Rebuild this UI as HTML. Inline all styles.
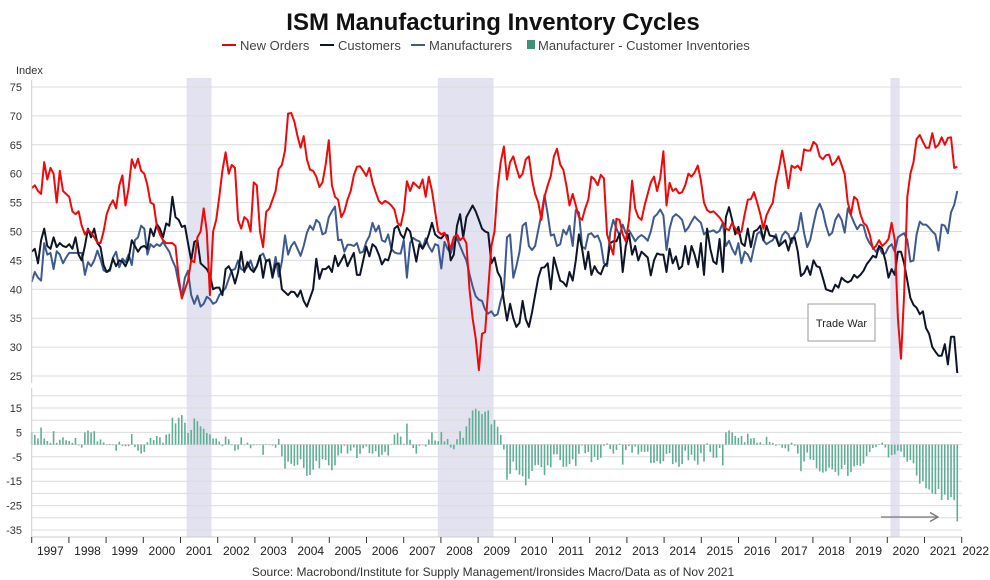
<!DOCTYPE html>
<html><head><meta charset="utf-8"><style>
html,body{margin:0;padding:0;background:#fff;}
svg{display:block;font-family:"Liberation Sans",Arial,sans-serif;}
</style></head><body>
<svg id="chart" width="990" height="580" viewBox="0 0 990 580">
<text x="493" y="30" text-anchor="middle" font-size="24" font-weight="bold" fill="#111">ISM Manufacturing Inventory Cycles</text>
<g font-size="13" fill="#444">
 <g><line x1="222" y1="45" x2="236" y2="45" stroke="#e8000b" stroke-width="2"/><text x="240" y="50">New Orders</text></g>
 <g><line x1="320" y1="45" x2="334" y2="45" stroke="#0d1526" stroke-width="2"/><text x="338" y="50">Customers</text></g>
 <g><line x1="411" y1="45" x2="425" y2="45" stroke="#3f5a8e" stroke-width="2"/><text x="429" y="50">Manufacturers</text></g>
 <g><rect x="527" y="40" width="8" height="9" fill="#3d9276"/><text x="538" y="50">Manufacturer - Customer Inventories</text></g>
</g>
<text x="16" y="74" font-size="11" fill="#333">Index</text>
<g id="shades"></g>
<g id="grid"></g>
<g id="bars"></g>
<g id="lines"></g>
<g id="axes"></g>
<g>
 <rect x="808" y="304" width="67" height="37" fill="#fff" stroke="#999" stroke-width="1"/>
 <text x="841.5" y="327" text-anchor="middle" font-size="11" fill="#222">Trade War</text>
</g>
<g stroke="#777" stroke-width="1.3" fill="none">
 <line x1="881" y1="517" x2="938" y2="517"/><polyline points="930,512.5 938,517 930,521.5"/>
</g>
<text x="493" y="576" text-anchor="middle" font-size="12" fill="#333">Source: Macrobond/Institute for Supply Management/Ironsides Macro/Data as of Nov 2021</text>
</svg>
<script>
const newOrders = [57.5,58,57,56.5,62,59,61,60,55,60.5,
57,56.5,56,53.5,53,53.5,51,49.5,50.3,49.8,49,48.1,
48,50,53,54.5,55.4,54,58,59.7,54.5,57.5,62.5,61,
62.6,60.5,60,58,55,54.7,51,49.5,48.5,48,48,48,
47.5,42,38.4,40,41.5,45,44.7,49,50,54,50,39,
50,52,56,60.5,63.7,60,61.5,61,52,50.5,52.5,52,
50,58.5,58,50,47.3,
53.4,54,55.5,57,60.8,61.5,64,70.4,70.5,69,66.5,64.5,66.5,62.5,60.7,60.5,59.5,57.7,58.5,61.5,65.8,58,56,55.5,52.5,53.5,55.5,57,59.7,61.2,61.3,60.5,59.6,61,58.5,56.8,55.3,54.8,55.3,55,54.5,53.8,51.5,51,53.5,58.7,57,58.5,58,57.5,59,56,59.5,57,53.5,50,49.5,49.8,48.5,47,49,49.5,48.5,49,48,40,35,31.5,26,32.3,32.6,40,47.5,50,57.5,62,
64.7,59,62,63,61,59.3,60,62.5,63,59,56.5,55,52,56,58,59.6,63,64.3,61.6,60.7,58,54.5,56.5,54.5,52.5,52,54,55.5,59.5,59,58,59.8,59.2,49.5,47.7,46,52.2,52,49.5,48.3,52,58.8,54,52.5,52,54.5,56.5,58.5,59.5,57,59.2,63.9,54.5,58.4,57,57.4,56.6,56.8,58,60,59.5,60.2,61.4,58.8,55,53.7,53.3,53.5,53,52.4,51.6,50.5,50.2,
51.5,50.5,49.6,50,53,55.5,55.6,56.8,55,53,50.5,52.8,54,55,58.5,61,64,61,57.5,61.4,61,61.4,60.6,64.2,64,64,65.5,65,63,62.5,63.2,63.3,61.5,62,63,61.5,59.9,55,53,56,55.5,53,51.5,51,49.5,47,47.5,48.5,47.5,48,48.7,51.5,48.5,35,28,39,56,60,62,66,66.7,65.5,64.5,64.5,67,64.5,65,66.3,65,66.2,66.3,61,61.2];
const customers = [46.5,47,44.5,48.5,50.5,47.5,47,49,47.3,48,
47.5,47.3,47.8,47,49,46,45,47.5,50.5,49,50.5,48,
47.3,44.2,43,43.5,45.3,44,45,44.8,44,45.3,48.5,47.5,
46.5,47.3,47.5,47,50.5,49.2,51.3,50.5,49,51.4,51,56,
52.5,52,50.8,51,48,45,48.2,48.5,44.5,44,43.5,42.5,
40,40.3,40.3,39,43.5,44,43,41,43,46.5,43,44.7,
43.5,43,44,
45.8,42,45,45,42,44.3,44.5,40,39.5,39,39.6,39.5,38.7,39.8,38,37,38.5,40,45.3,41.8,43.5,43.5,44,43,45.8,44,45,46,44,45.2,46.3,42.5,42.5,45,47.4,45.7,47.8,47.3,46,44.3,45.2,45,46.8,50.5,51,49.5,48.8,50.6,50,47.5,44.8,47.8,47,48,49.5,51.5,49.5,49,48.8,49.5,49.3,45,46,51,53,49,52.5,53.5,54.5,53.5,52,50.5,50,49.8,44.5,45.5,43,42,
38,34.6,37.5,35,33.5,34.2,38,34.8,33.5,36,39,42,43.7,43.8,44.5,40,45.5,43.5,41.5,41.2,40.5,43,41.5,45,49.5,47,43.5,46.5,42.5,44,43,42.6,44,44.5,48,48.3,48.3,49.6,43,47.5,49.6,46,47.5,45,46.5,46,45.5,42.4,45,46.2,46,46,43,47,44.5,45.7,43.5,44,47.5,44.3,47.5,46,43.8,48,42.5,50.5,47,44.8,44.4,48.7,43,52.5,54.2,
52,49.5,50.8,48,47.5,50.5,47.3,50,50.3,51,48.5,51,49.3,49.2,49,47.5,48,48.5,46.7,48.8,49,46.5,42.3,42.8,44,42.5,45,44,43.8,42,40,39.8,39.6,40.8,40.3,42,41.5,41.2,41.5,42.5,42,42.5,43.2,44.3,45,45.8,45.5,47.5,47,45,42,43.5,42.5,46.5,46.5,44.5,41.5,38.5,37.3,36.8,35.7,36.2,33.3,32.3,30,29.2,28.5,28.5,30.5,27,31.8,31.8,25.5];
const manufacturers = [41.3,43,42,41.5,48,46,46.3,43.5,46.6,46,
44.5,45.5,46.3,46.3,46.3,46.3,46.3,42.5,44.7,44,45,46.7,
45.2,43.3,43,43.2,45.5,46.5,43.8,45.3,44.7,46,44.2,48.5,
49,51,50.5,46,47.8,47.3,47.8,47.5,48.2,47.3,46.5,45,
43.8,41,38.7,42,43.2,39,37.5,38.9,37,37.5,38.7,38.3,
37.5,37.8,39,39.6,40.2,41.8,43.3,43.5,45,43.5,43.2,43.9,
45,43.3,44,
45.8,46.2,44.8,45.2,42.4,45.6,42.2,44.8,49.3,46,47.5,48.2,47,45.8,47.5,49.8,51,50.3,52,51.5,49.5,49.8,52.5,53.5,54.3,48.5,48.6,46.5,47.7,47.7,47.5,48,46.3,46.5,48.2,49.2,51.5,50,51,48.5,48.2,49.5,47,46.4,46.2,46.2,48.5,42,48,48.9,48.5,48.3,47.1,48.8,47.4,46.5,47.8,47.6,43.6,48.2,47,46.2,47.9,48.8,47.5,46.2,45,42.6,40.5,38.8,38.2,38,36.5,35.8,36.2,35.4,35.7,38,
40,49,49.5,42,44,46.5,51,51.5,47.5,46.8,47.5,50.3,53,56.3,53,49.3,49.5,47.5,47.8,50.3,49.5,51,47.5,53.7,53.3,47.4,47,49.5,49.7,49,49.3,48,44.5,44,49.8,52,50.5,49.3,51.2,49.7,50.2,49.3,48.3,49,49.4,49,48.4,50,52.5,53,53.8,52.8,46.8,50.5,52.5,53,52.6,52,50,50.7,51.7,52.6,52,51.5,49.5,50,50,50.2,49.8,50.1,51.5,47.5,48.4,
47,46,48,44.5,46.5,46,44.8,47.3,49.6,50,48.5,47.8,48.2,48.5,49.5,47.5,49.3,50,49.5,48,49.5,50.2,53.2,49.7,47.3,48.6,51.3,53.7,54.8,53.5,51,49.3,49.8,52,53,52,49.8,54,52.8,51.5,50.4,51.2,51,49,48,47.2,46.5,47.3,46.2,46.2,47.3,47.8,46.5,49,49.4,49.7,48.5,44.8,45,49.5,51.7,51.2,51.2,50.7,50,49.5,46.7,51.2,51,49.7,53.3,54.6,57];
const inventoryGap = customers.map((c, i) => +(c - manufacturers[i]).toFixed(1));
const yearLabels = [1997,1998,1999,2000,2001,2002,2003,2004,2005,2006,2007,2008,2009,2010,2011,2012,2013,2014,2015,2016,2017,2018,2019,2020,2021,2022];
const topTicks = [75,70,65,60,55,50,45,40,35,30,25];
const bottomGrid = [20,15,10,5,0,-5,-10,-15,-20,-25,-30,-35];
const bottomTickLabels = [15,5,-5,-15,-25,-35];
const recessionStarts = [50,131,277];
const recessionEnds = [58,149,280];

const NS = "http://www.w3.org/2000/svg";
const X0 = 31.7, XSTEP = 3.1, XR = 962, DSTEP = 3.127;
function xMonth(m){ return X0 + m * XSTEP; }
function xData(i){ return X0 + i * DSTEP; }
function yTop(v){ return 87 + (75 - v) * 5.78; }
function yBot(v){ return 444.6 - v * 2.44; }
function mk(tag, attrs, parent){
  const e = document.createElementNS(NS, tag);
  for (const k in attrs) e.setAttribute(k, attrs[k]);
  parent.appendChild(e); return e;
}
const shades = document.getElementById('shades');
for (let i = 0; i < recessionStarts.length; i++) {
  const r = mk('rect', {x: xMonth(recessionStarts[i]), y: 78, width: (recessionEnds[i]-recessionStarts[i]) * XSTEP, height: 459, fill: '#e2e2f1'}, shades);
  
  
}
const grid = document.getElementById('grid');
const axes = document.getElementById('axes');
topTicks.forEach(v => {
  const l = mk('line', {x1: X0, x2: XR, y1: yTop(v), y2: yTop(v), stroke: '#dcdcdc', 'stroke-width': 1}, grid);
  
  
  const t = mk('text', {x: 22, y: yTop(v) + 4, 'text-anchor': 'end', 'font-size': 11, fill: '#333'}, axes);
  t.textContent = v;
  
  
});
bottomGrid.forEach(v => {
  const l = mk('line', {x1: X0, x2: XR, y1: yBot(v), y2: yBot(v), stroke: '#dcdcdc', 'stroke-width': 1}, grid);
  
  
});
bottomTickLabels.forEach(v => {
  const t = mk('text', {x: 22, y: yBot(v) + 4, 'text-anchor': 'end', 'font-size': 11, fill: '#333'}, axes);
  t.textContent = v;
  
  
});
const ya1 = mk('line', {x1: X0, x2: X0, y1: 80, y2: 383, stroke: '#ccc'}, axes);


const ya2 = mk('line', {x1: X0, x2: X0, y1: 388, y2: 537, stroke: '#ccc'}, axes);


const xa = mk('line', {x1: X0, x2: XR, y1: 537, y2: 537, stroke: '#ccc'}, axes);


yearLabels.forEach((yr, i) => {
  const x = xMonth(i * 12);
  const tk = mk('line', {x1: x, x2: x, y1: 537, y2: 543, stroke: '#333'}, axes);
  
  
  const t = mk('text', {x: i === yearLabels.length - 1 ? x + 14 : x + 18.6, y: 555, 'text-anchor': 'middle', 'font-size': 12, fill: '#222'}, axes);
  t.textContent = yr;
  
  
});
const bars = document.getElementById('bars');
inventoryGap.forEach((v, i) => {
  const y0 = yBot(0), y1 = yBot(v);
  const b = mk('rect', {x: xData(i) - 0.8, y: Math.min(y0, y1), width: 1.6, height: Math.max(0.5, Math.abs(y1 - y0)), fill: '#5fae95'}, bars);
  
  
});
const lines = document.getElementById('lines');
function drawLine(arr, color, name){
  const pts = arr.map((v, i) => xData(i).toFixed(1) + ',' + yTop(v).toFixed(1)).join(' ');
  const p = mk('polyline', {points: pts, fill: 'none', stroke: color, 'stroke-width': 2, 'stroke-linejoin': 'round'}, lines);
  
  
}
drawLine(manufacturers, '#3f5a8e', 'manufacturers-line');
drawLine(customers, '#0d1526', 'customers-line');
drawLine(newOrders, '#ee0a0a', 'new-orders-line');
</script>
</body></html>
